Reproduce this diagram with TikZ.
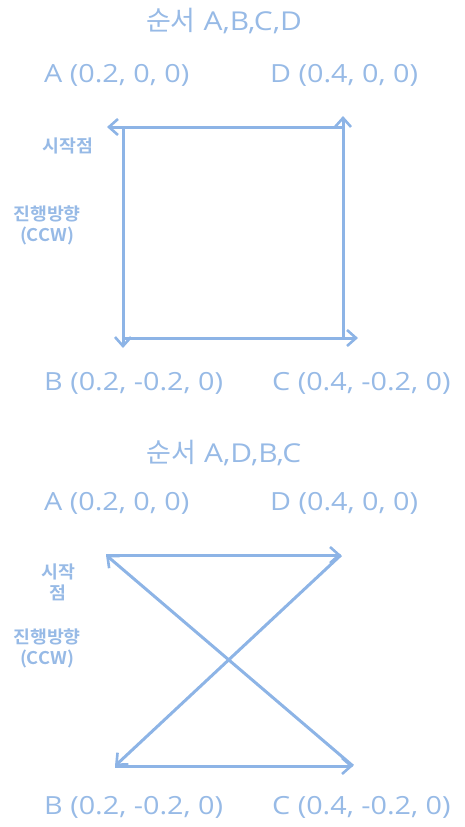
\documentclass[tikz,border=0pt]{standalone}
\usepackage{fontspec}
\setmainfont{Open Sans}[FakeStretch=1.15]
\newfontfamily\kr{Noto Sans CJK KR}
\newfontfamily\krb{Noto Sans CJK KR Bold}[FakeStretch=1.05]
\usetikzlibrary{arrows.meta}
\definecolor{lblue}{HTML}{8DB4E6}
\definecolor{tblue}{HTML}{97BAE6}
\newcommand{\krtitle}[1]{{\kr\fontsize{27}{30}\selectfont #1}}
\tikzset{
  edge/.style={draw=lblue, line width=3pt, -{Straight Barb[length=9pt,width=16pt,line width=2.6pt]}},
  lbl/.style={text=tblue, font=\fontsize{25}{28}\selectfont, inner sep=0pt, anchor=west},
  ttl/.style={text=tblue, font=\fontsize{26}{30}\selectfont, inner sep=0pt},
  note/.style={text=tblue, font=\fontsize{17.5}{21}\selectfont\krb, inner sep=0pt, align=center},
}
\begin{document}
\begin{tikzpicture}[x=1pt,y=-1pt]
\useasboundingbox (0,0) rectangle (464,827);

% ---- order A,B,C,D ----
\node[ttl] (t1) at (224,21) {\krtitle{순서} A,B,C,D};
\node[lbl] (la1) at (44,75) {A (0.2, 0, 0)};
\node[lbl] (ld1) at (270,75) {D (0.4, 0, 0)};
\node[lbl] (lb1) at (44,383) {B (0.2, -0.2, 0)};
\node[lbl] (lc1) at (272,383) {C (0.4, -0.2, 0)};
\node[note] (s1) at (68,146) {시작점};
\node[note] (d1) at (47,225) {진행방향\\(CCW)};

\coordinate (A1) at (123,127);
\coordinate (A1t) at (107,127);
\coordinate (B1) at (123,338);
\coordinate (B1t) at (123,348);
\coordinate (C1) at (343,338);
\coordinate (C1t) at (358,338);
\coordinate (D1) at (343,127);
\coordinate (D1t) at (343,116);
\draw[edge] (A1) -- (B1t);
\draw[edge] (B1) -- (C1t);
\draw[edge] (C1) -- (D1t);
\draw[edge] (D1) -- (A1t);

% ---- order A,D,B,C ----
\node[ttl] (t2) at (224,453) {\krtitle{순서} A,D,B,C};
\node[lbl] (la2) at (44,503) {A (0.2, 0, 0)};
\node[lbl] (ld2) at (270,503) {D (0.4, 0, 0)};
\node[lbl] (lb2) at (44,807) {B (0.2, -0.2, 0)};
\node[lbl] (lc2) at (272,807) {C (0.4, -0.2, 0)};
\node[note] (s2) at (58,582) {시작\\점};
\node[note] (d2) at (47,648) {진행방향\\(CCW)};

\coordinate (A2) at (106,555);
\coordinate (D2) at (341,555);
\coordinate (B2) at (115,766);
\coordinate (C2) at (353,766);
\draw[edge] (A2) -- (D2);
\draw[edge] (D2) -- (B2);
\draw[edge] (B2) -- (C2);
\draw[edge] (C2) -- (A2);
\end{tikzpicture}
\end{document}
